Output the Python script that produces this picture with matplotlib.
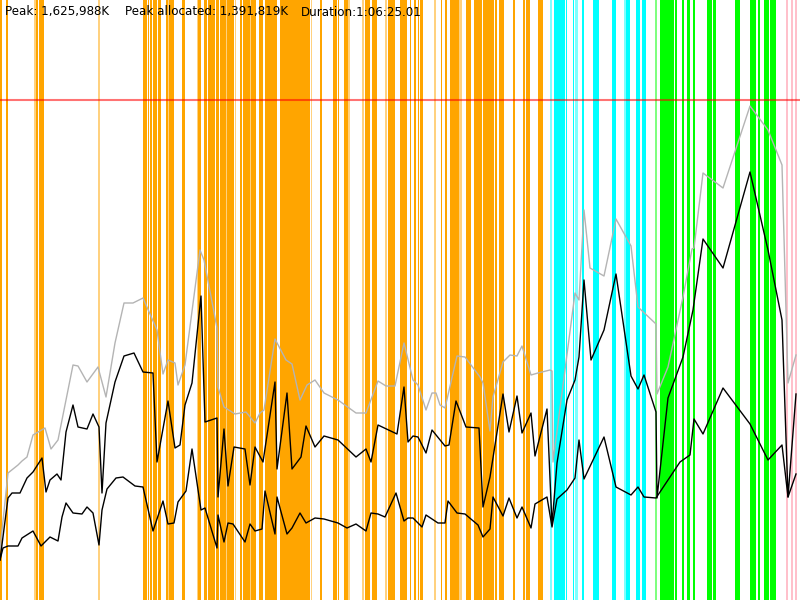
import matplotlib
matplotlib.use("Agg")
import matplotlib.pyplot as plt

# time axis 0..800, memory axis 0..600 (one unit ~ 3.27 MB)
heap_limit = 500

heap_x = [0, 8, 18, 22, 27, 33, 45, 51, 58, 73, 78, 87, 98, 106, 115, 124, 133, 143, 157, 163,
          168, 175, 178, 185, 200, 204, 217, 218, 224, 235, 246, 255, 260, 264, 275, 286, 292, 300, 307, 315,
          324, 338, 356, 366, 378, 386, 395, 404, 413, 418, 426, 432, 436, 440, 445, 457, 465, 480, 483, 490,
          493, 503, 510, 517, 522, 531, 538, 550, 552, 553, 575, 579, 584, 590, 604, 616, 631, 638, 656, 657,
          668, 683, 692, 694, 703, 723, 750, 768, 782, 788, 796]
heap_y = [50, 127, 135, 139, 143, 165, 172, 151, 160, 235, 234, 218, 233, 203, 257, 297, 297, 302, 270, 226,
          240, 237, 215, 235, 350, 340, 272, 213, 193, 186, 188, 177, 187, 190, 261, 240, 236, 200, 215, 220,
          207, 200, 187, 187, 219, 214, 214, 257, 220, 215, 190, 207, 207, 195, 192, 244, 243, 223, 217, 169,
          203, 238, 245, 244, 254, 225, 227, 230, 229, 138, 307, 300, 390, 332, 324, 381, 354, 293, 276, 206,
          233, 303, 351, 352, 427, 412, 494, 470, 435, 217, 245]

alloc_x = [0, 8, 12, 20, 27, 33, 42, 46, 50, 57, 61, 66, 73, 78, 87, 93, 99, 102, 106, 115,
           124, 134, 143, 153, 157, 168, 175, 180, 185, 192, 201, 205, 217, 218, 224, 228, 234, 245, 250, 255,
           263, 275, 277, 287, 292, 301, 306, 315, 324, 338, 356, 366, 371, 378, 397, 404, 408, 413, 418, 426,
           432, 445, 449, 456, 466, 479, 483, 490, 503, 509, 517, 522, 531, 535, 547, 552, 557, 567, 575, 579,
           584, 591, 604, 616, 631, 638, 644, 656, 657, 668, 683, 693, 703, 723, 750, 768, 782, 788, 796]
alloc_y = [40, 102, 107, 107, 122, 128, 142, 108, 120, 126, 120, 168, 195, 173, 171, 186, 173, 107, 177, 218,
           244, 247, 228, 227, 138, 199, 152, 155, 195, 217, 304, 178, 182, 103, 171, 114, 153, 151, 115, 153,
           138, 218, 131, 207, 131, 143, 174, 153, 164, 160, 143, 151, 138, 175, 166, 213, 158, 164, 163, 147,
           170, 154, 155, 199, 173, 172, 93, 123, 206, 168, 204, 167, 187, 144, 191, 75, 137, 200, 220, 243,
           320, 240, 270, 326, 224, 211, 225, 188, 102, 202, 243, 290, 361, 332, 428, 350, 280, 103, 206]

live_x = [0, 3, 8, 18, 22, 33, 41, 50, 58, 62, 66, 73, 82, 87, 93, 99, 102, 107, 116, 123,
          135, 143, 153, 163, 168, 174, 178, 186, 192, 201, 205, 217, 218, 224, 228, 233, 245, 250, 255, 262,
          265, 275, 277, 287, 292, 300, 306, 315, 324, 338, 347, 356, 366, 371, 378, 385, 396, 404, 408, 413,
          422, 426, 438, 445, 448, 457, 465, 478, 483, 490, 493, 503, 509, 517, 522, 531, 535, 547, 552, 557,
          567, 575, 579, 584, 604, 616, 631, 638, 644, 656, 668, 680, 690, 694, 703, 723, 750, 768, 782, 788, 796]
live_y = [40, 52, 54, 54, 62, 69, 54, 63, 59, 83, 97, 87, 86, 93, 87, 55, 90, 111, 122, 123,
          114, 113, 69, 99, 76, 77, 98, 109, 151, 90, 92, 52, 85, 58, 77, 76, 58, 76, 69, 71,
          109, 66, 103, 66, 72, 87, 77, 82, 81, 77, 72, 76, 69, 87, 86, 83, 107, 79, 82, 82,
          73, 85, 77, 77, 99, 87, 86, 75, 63, 71, 103, 84, 102, 82, 93, 72, 96, 103, 73, 101,
          110, 122, 160, 121, 163, 113, 105, 113, 103, 102, 120, 138, 145, 181, 166, 212, 176, 140, 155, 103, 126]

# GC events: (start, end, faint)
orange_gc = [(0, 2, 0), (6, 8, 0), (34, 36, 1), (36, 38, 0), (39, 44, 0), (98, 100, 1),
             (143, 147, 0), (148, 149, 0), (150, 152, 0), (153, 157, 0), (158, 161, 0), (166, 168, 0),
             (168, 169, 1), (169, 174, 0), (182, 185, 0), (197, 198, 1), (198, 201, 0), (204, 207, 0),
             (208, 215, 0), (216, 219, 0), (220, 226, 0), (226, 227, 1), (227, 234, 0), (235, 236, 1),
             (240, 242, 0), (243, 250, 0), (250, 251, 1), (251, 256, 0), (259, 263, 0), (265, 277, 0),
             (280, 300, 0), (300, 310, 0), (311, 312, 1), (320, 322, 0), (333, 337, 0), (338, 339, 0),
             (344, 348, 0), (348, 350, 1), (362, 364, 1), (365, 370, 0), (372, 377, 0), (385, 387, 1),
             (388, 395, 0), (400, 407, 0), (410, 411, 0), (414, 416, 0), (418, 419, 0), (420, 423, 0),
             (434, 436, 1), (441, 442, 0), (445, 447, 0), (450, 459, 0), (459, 462, 1), (466, 471, 0),
             (474, 482, 0), (483, 494, 0), (495, 497, 0), (499, 504, 0), (513, 515, 0), (523, 525, 0),
             (526, 530, 0), (538, 543, 0)]
cyan_gc = [(550, 552, 1), (554, 565, 0), (566, 567, 0), (573, 574, 0), (575, 578, 1), (582, 584, 0),
           (593, 599, 0), (612, 616, 0), (624, 626, 1), (626, 630, 0), (636, 640, 0), (642, 646, 0)]
green_gc = [(655, 657, 1), (660, 670, 0), (670, 674, 0), (675, 677, 0), (682, 684, 0), (687, 690, 0),
            (693, 695, 0), (707, 712, 0), (713, 716, 0), (735, 740, 0), (750, 756, 0), (758, 760, 0),
            (764, 769, 0), (770, 776, 0)]
pink_gc = [(786, 788, 0), (791, 793, 0), (795, 797, 0)]

fig = plt.figure(figsize=(8, 6), dpi=100)
ax = fig.add_axes([0, 0, 1, 1])
ax.set_xlim(0, 800)
ax.set_ylim(0, 600)
ax.axis("off")

for events, col in [(orange_gc, "#ffa500"), (cyan_gc, "#00ffff"),
                    (green_gc, "#00ff00"), (pink_gc, "#ffc0cb")]:
    for s, e, faint in events:
        ax.axvspan(s, e, color=col, alpha=0.5 if faint else 1.0, lw=0, zorder=1)

ax.axhline(heap_limit, color="red", alpha=0.55, lw=1.5, zorder=2)

ax.plot(heap_x, heap_y, color="#b4b4b4", lw=1, zorder=3)
ax.plot(alloc_x, alloc_y, color="black", lw=1, zorder=4)
ax.plot(live_x, live_y, color="black", lw=1, zorder=4)

fig.text(5 / 800, 1 - 12 / 600, "Peak: 1,625,988K", fontsize=8.6, va="center")
fig.text(125 / 800, 1 - 12 / 600, "Peak allocated: 1,391,819K", fontsize=8.6, va="center")
fig.text(301 / 800, 1 - 12 / 600, "Duration:1:06:25.01", fontsize=8.6, va="center")

fig.savefig("out.png", dpi=100)
